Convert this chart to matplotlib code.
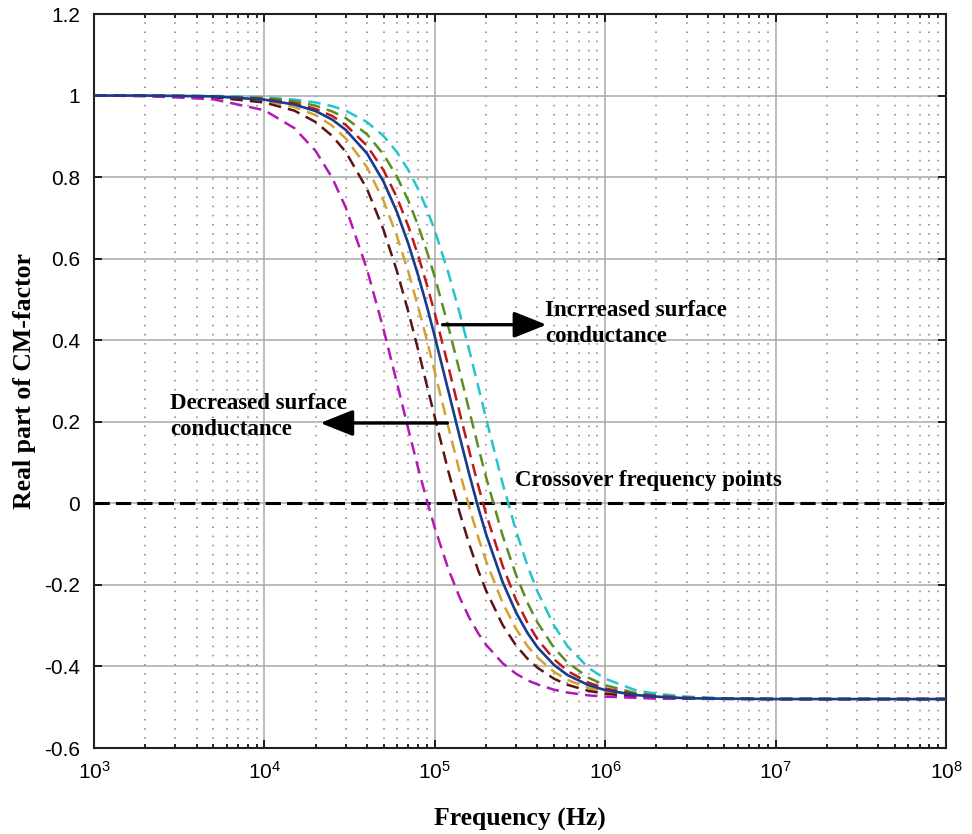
import numpy as np
import matplotlib
matplotlib.use("Agg")
import matplotlib.pyplot as plt
from matplotlib.ticker import LogLocator, NullLocator, FixedLocator

# Frequency points (Hz) shared by all curves
freq = [1e3, 2e3, 5e3, 1e4, 1.5e4, 2e4, 2.5e4, 3e4, 4e4, 5e4, 6e4, 7e4, 8e4, 9e4,
        1e5, 1.2e5, 1.4e5, 1.6e5, 1.8e5, 2e5, 2.5e5, 3e5, 3.5e5, 4e5, 5e5, 6e5,
        8e5, 1e6, 1.5e6, 2e6, 3e6, 5e6, 1e7, 1e8]

# Real part of the CM factor, one series per surface conductance value
cm_magenta = [1.000, 0.999, 0.991, 0.964, 0.920, 0.864, 0.798, 0.726, 0.574, 0.427, 0.295, 0.181,
              0.085, 0.006, -0.060, -0.161, -0.231, -0.282, -0.319, -0.347, -0.392, -0.418,
              -0.434, -0.444, -0.457, -0.464, -0.471, -0.474, -0.477, -0.479, -0.479, -0.480,
              -0.480, -0.480]
cm_brown = [1.000, 0.999, 0.996, 0.983, 0.963, 0.935, 0.901, 0.862, 0.771, 0.671, 0.569, 0.469,
            0.375, 0.288, 0.211, 0.079, -0.023, -0.103, -0.165, -0.214, -0.298, -0.349,
            -0.381, -0.403, -0.430, -0.445, -0.460, -0.467, -0.474, -0.477, -0.479, -0.479,
            -0.480, -0.480]
cm_orange = [1.000, 0.999, 0.997, 0.988, 0.972, 0.952, 0.926, 0.895, 0.824, 0.742, 0.655, 0.567,
             0.480, 0.399, 0.322, 0.188, 0.077, -0.012, -0.084, -0.142, -0.244, -0.308,
             -0.350, -0.378, -0.413, -0.433, -0.453, -0.463, -0.472, -0.476, -0.478, -0.479,
             -0.480, -0.480]
cm_blue = [1.000, 1.000, 0.998, 0.990, 0.978, 0.962, 0.941, 0.916, 0.858, 0.789, 0.714, 0.636,
           0.558, 0.482, 0.409, 0.276, 0.163, 0.068, -0.011, -0.076, -0.193, -0.268,
           -0.318, -0.353, -0.396, -0.421, -0.446, -0.458, -0.470, -0.474, -0.478, -0.479,
           -0.480, -0.480]
cm_red = [1.000, 1.000, 0.998, 0.992, 0.981, 0.967, 0.950, 0.928, 0.877, 0.817, 0.750, 0.679,
          0.607, 0.535, 0.466, 0.336, 0.222, 0.125, 0.043, -0.026, -0.153, -0.237,
          -0.293, -0.333, -0.382, -0.411, -0.440, -0.454, -0.468, -0.473, -0.477, -0.479,
          -0.480, -0.480]
cm_green = [1.000, 1.000, 0.998, 0.994, 0.986, 0.975, 0.961, 0.945, 0.905, 0.856, 0.801, 0.742,
            0.680, 0.617, 0.555, 0.434, 0.323, 0.224, 0.138, 0.064, -0.079, -0.176,
            -0.244, -0.292, -0.354, -0.390, -0.428, -0.446, -0.465, -0.471, -0.476, -0.479,
            -0.480, -0.480]
cm_cyan = [1.000, 1.000, 0.999, 0.996, 0.990, 0.983, 0.974, 0.963, 0.935, 0.901, 0.861, 0.817,
           0.770, 0.720, 0.669, 0.566, 0.466, 0.372, 0.286, 0.208, 0.049, -0.068,
           -0.153, -0.216, -0.299, -0.350, -0.404, -0.430, -0.458, -0.467, -0.474, -0.478,
           -0.479, -0.480]

y_ticks = [-0.6, -0.4, -0.2, 0, 0.2, 0.4, 0.6, 0.8, 1, 1.2]
y_tick_labels = ["-0.6", "-0.4", "-0.2", "0", "0.2", "0.4", "0.6", "0.8", "1", "1.2"]

plt.rcParams["mathtext.fontset"] = "custom"
plt.rcParams["mathtext.rm"] = "Liberation Sans"
plt.rcParams["mathtext.it"] = "Liberation Sans"
plt.rcParams["mathtext.default"] = "regular"

fig = plt.figure(figsize=(9.72, 8.34), dpi=100)
ax = fig.add_axes([94 / 972, 1 - 748 / 834, 852 / 972, 734 / 834])
ax.set_xscale("log")
ax.set_xlim(1e3, 1e8)
ax.set_ylim(-0.6, 1.2)

# grid: solid major lines, dotted minor verticals
ax.grid(True, which="major", color="#a8a8a8", linewidth=1.1, linestyle="-")
ax.xaxis.set_minor_locator(LogLocator(base=10, subs=np.arange(2, 10), numticks=20))
ax.grid(True, which="minor", axis="x", color="#808080", linewidth=1.1, linestyle=(0, (1, 5)))
ax.yaxis.set_minor_locator(NullLocator())
ax.set_axisbelow(True)

# zero line
ax.axhline(0, color="black", linewidth=2.2, dashes=(5, 2), zorder=2)

dash = (5, 2.8)
lw = 1.8
ax.plot(freq, cm_cyan, color="#22c6cc", lw=lw, dashes=dash, zorder=3)
ax.plot(freq, cm_green, color="#5c8c22", lw=lw, dashes=dash, zorder=3)
ax.plot(freq, cm_red, color="#c01818", lw=lw, dashes=dash, zorder=3)
ax.plot(freq, cm_orange, color="#d6a030", lw=lw, dashes=dash, zorder=3)
ax.plot(freq, cm_brown, color="#5a1414", lw=lw, dashes=dash, zorder=3)
ax.plot(freq, cm_magenta, color="#b418b4", lw=lw, dashes=dash, zorder=3)
ax.plot(freq, cm_blue, color="#163c8c", lw=1.9, linestyle="-", zorder=4)

ax.yaxis.set_major_locator(FixedLocator(y_ticks))
ax.set_yticklabels(y_tick_labels)

ax.tick_params(which="both", direction="in", top=True, right=True, width=1.2)
ax.tick_params(which="major", length=6, labelsize=15)
ax.tick_params(axis="y", which="major", pad=10)
ax.tick_params(axis="x", which="major", pad=9)
ax.tick_params(which="minor", length=3)
for lbl in ax.get_yticklabels() + ax.get_xticklabels():
    lbl.set_fontfamily("Liberation Sans")
for sp in ax.spines.values():
    sp.set_linewidth(1.5)
    sp.set_color("#202020")

label_font = dict(family="Liberation Serif", fontweight="bold", fontsize=18.5)
ax.set_xlabel("Frequency (Hz)", **label_font)
ax.set_ylabel("Real part of CM-factor", **label_font)
ax.xaxis.set_label_coords(0.5, -0.082)
ax.yaxis.set_label_coords(-0.068, 0.5)

note_font = dict(family="Liberation Serif", fontweight="bold", fontsize=16.5)
arrow_style = dict(arrowstyle="-|>,head_length=1.0,head_width=0.4",
                   color="black", lw=2.4, mutation_scale=20)
ax.annotate("", xy=(4.7e5, 0.438), xytext=(1.07e5, 0.438),
            arrowprops=arrow_style, zorder=5)
ax.text(4.44e5, 0.441, "Incrreased surface\nconductance", ha="left", va="center",
        linespacing=1.3, zorder=6, **note_font)
ax.annotate("", xy=(2.05e4, 0.197), xytext=(1.23e5, 0.197),
            arrowprops=arrow_style, zorder=5)
ax.text(2.79e3, 0.212, "Decreased surface\nconductance", ha="left", va="center",
        linespacing=1.3, zorder=6, **note_font)
ax.text(2.96e5, 0.057, "Crossover frequency points", ha="left", va="center",
        zorder=6, **note_font)

fig.savefig("out.png", dpi=100)
